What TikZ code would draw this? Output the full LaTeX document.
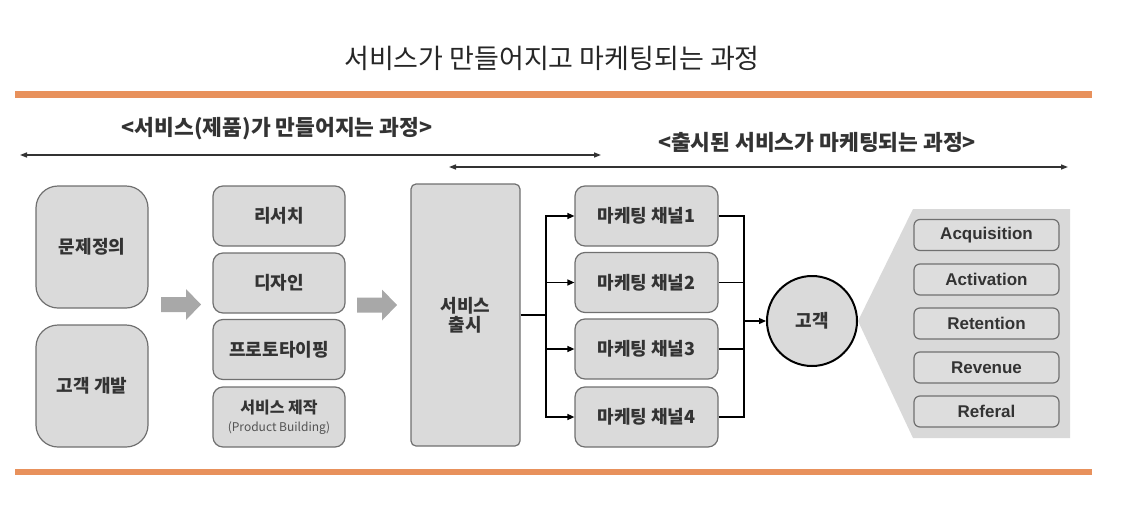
\documentclass[tikz,border=0pt]{standalone}
\usepackage{fontspec}
\newfontfamily\kr{Noto Sans CJK KR}
\newfontfamily\en{Liberation Sans}
\usetikzlibrary{arrows.meta}
\definecolor{orangeline}{HTML}{E8915C}
\definecolor{boxfill}{HTML}{DADADA}
\definecolor{boxdraw}{HTML}{707070}
\definecolor{txt}{HTML}{333333}
\definecolor{titletxt}{HTML}{262626}
\definecolor{bigarrow}{HTML}{A8A8A8}
\definecolor{funnelbg}{HTML}{D9D9D9}
\definecolor{funnelbox}{HTML}{DDDDDD}
\begin{document}
\begin{tikzpicture}[x=1pt,y=-1pt,
  box/.style={draw=boxdraw, fill=boxfill, line width=1.2pt, rounded corners=10pt,
    text=txt, font=\kr\bfseries\fontsize{18}{21}\selectfont, inner sep=0pt, align=center},
  bigbox/.style={box, rounded corners=22pt, minimum width=112pt, minimum height=122pt},
  stepbox/.style={box, minimum width=132pt, minimum height=60pt},
  chanbox/.style={box, minimum width=143pt, minimum height=60pt},
  funbox/.style={draw=boxdraw, fill=funnelbox, line width=1.2pt, rounded corners=6pt,
    text=txt, font=\en\bfseries\fontsize{17}{20}\selectfont, minimum width=145pt,
    minimum height=31pt, inner sep=0pt},
  conn/.style={draw=black, line width=1.3pt, -{Triangle[length=7pt,width=6pt]}},
  span/.style={draw=txt, line width=1.4pt, {Triangle[length=7pt,width=5pt]}-{Triangle[length=7pt,width=5pt]}},
  heading/.style={text=txt, font=\kr\bfseries\fontsize{21.5}{24}\selectfont, inner sep=0pt},
  bigarrowshape/.style={fill=bigarrow, draw=none}]
\useasboundingbox (0,0) rectangle (1136,520);

% title
\node[text=titletxt, font=\kr\fontsize{27}{30}\selectfont, inner sep=0pt] (title) at (552,58) {서비스가 만들어지고 마케팅되는 과정};

% orange rules
\fill[orangeline] (15,91) rectangle (1092,97.5);
\fill[orangeline] (15,468.5) rectangle (1092,475);

% section headings and spans
\node[heading] (head1) at (277,129) {<서비스(제품)가 만들어지는 과정>};
\node[heading] (head2) at (817,142) {<출시된 서비스가 마케팅되는 과정>};
\coordinate (s1a) at (20,155);
\coordinate (s1b) at (601,155);
\coordinate (s2a) at (449,167);
\coordinate (s2b) at (1068,167);
\draw[span] (s1a) -- (s1b);
\draw[span] (s2a) -- (s2b);

% left column
\node[bigbox] (prob) at (92,247) {문제정의};
\node[bigbox] (cdev) at (92,386) {고객 개발};

% big arrow 1
\path[bigarrowshape] (161,297) -- (186,297) -- (186,289) -- (201,304.5) -- (186,320) -- (186,312) -- (161,312) -- cycle;

% steps
\node[stepbox] (research) at (279,216) {리서치};
\node[stepbox] (design) at (279,283) {디자인};
\node[stepbox] (proto) at (279,349.5) {프로토타이핑};
\node[stepbox] (build) at (279,417) {{\fontsize{16}{18}\selectfont 서비스 제작}\\[-3pt]{\kr\mdseries\fontsize{12}{14}\selectfont\color{txt!85} (Product Building)}};

% big arrow 2
\path[bigarrowshape] (357,297.5) -- (382,297.5) -- (382,289.5) -- (397,305) -- (382,320.5) -- (382,312.5) -- (357,312.5) -- cycle;

% launch
\node[box, rounded corners=5pt, minimum width=109pt, minimum height=262pt] (launch) at (465.5,315) {서비스\\[-2pt]출시};

% channels
\node[chanbox] (ch1) at (646.5,216) {마케팅 채널1};
\node[chanbox] (ch2) at (646.5,282.5) {마케팅 채널2};
\node[chanbox] (ch3) at (646.5,349) {마케팅 채널3};
\node[chanbox] (ch4) at (646.5,417) {마케팅 채널4};

\coordinate (split) at (546,315);
\draw[line width=1.3pt] (launch.east) -- (split);
\foreach \c in {ch1,ch2,ch3,ch4}{
  \draw[conn] (split) |- (\c.west);
}

% customer
\node[circle, draw=black, line width=2pt, fill=boxfill, minimum size=90pt, inner sep=0pt,
  text=txt, font=\kr\bfseries\fontsize{18}{21}\selectfont] (cust) at (812,321) {고객};
\coordinate (merge) at (744,321);
\foreach \c in {ch1,ch2,ch3,ch4}{
  \draw[line width=1.3pt] (\c.east) -| (merge);
}
\draw[conn] (merge) -- (cust.west);

% funnel
\path[fill=funnelbg] (cust.east) -- (913,209) -- (1070,209) -- (1070,438) -- (913,438) -- cycle;
\node[funbox] (acq) at (986.5,235) {Acquisition};
\node[funbox] (act) at (986.5,279.5) {Activation};
\node[funbox] (ret) at (986.5,323.5) {Retention};
\node[funbox] (rev) at (986.5,367.5) {Revenue};
\node[funbox] (ref) at (986.5,411.5) {Referal};
\end{tikzpicture}
\end{document}
